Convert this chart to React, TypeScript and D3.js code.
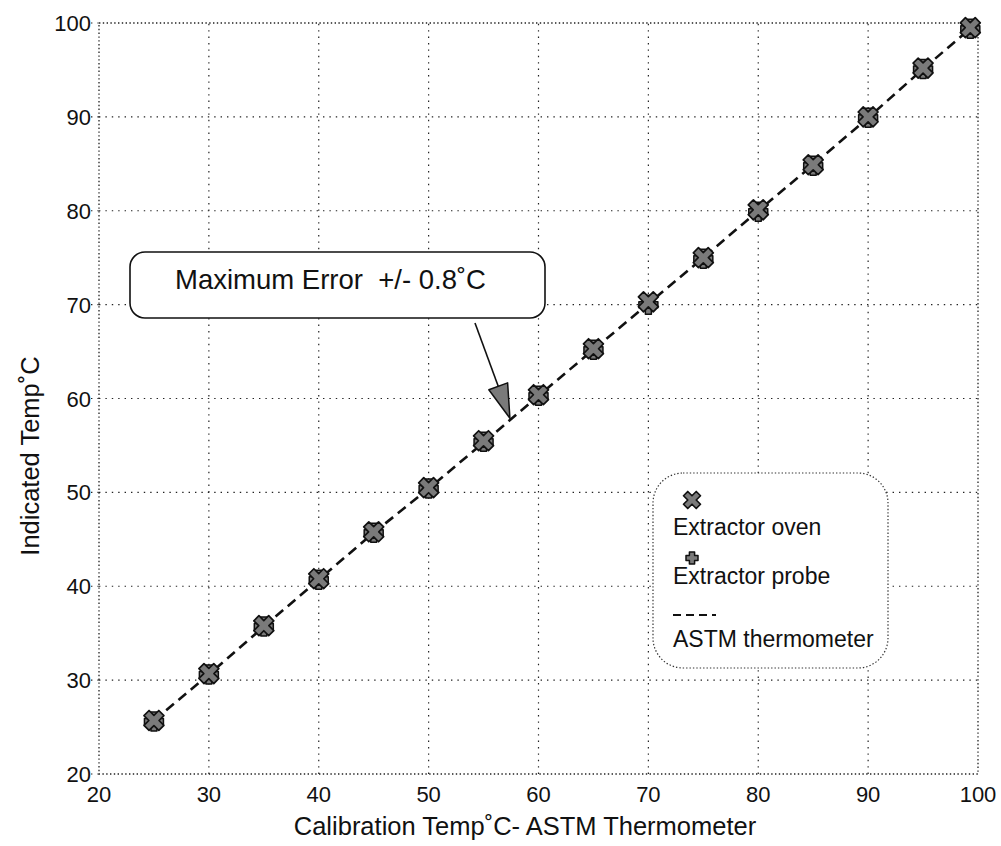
import React from "react";
import * as d3 from "d3";

// Calibration points (°C): reference thermometer reading vs. indicated reading
const calibrationTemps = [25, 30, 35, 40, 45, 50, 55, 60, 65, 70, 75, 80, 85, 90, 95, 99.3];
const ovenTemps = [25.7, 30.7, 35.8, 40.8, 45.8, 50.5, 55.5, 60.4, 65.3, 70.3, 75.0, 80.1, 84.9, 90.0, 95.2, 99.5];
const probeTemps = [25.6, 30.6, 35.7, 40.7, 45.7, 50.4, 55.4, 60.3, 65.2, 70.0, 74.9, 79.9, 84.8, 89.9, 95.1, 99.4];
const astmTemps = [25.7, 30.6, 35.7, 40.7, 45.7, 50.4, 55.3, 60.3, 65.2, 70.1, 75.0, 80.0, 84.9, 89.9, 95.1, 99.4];

const xTicks = [20, 30, 40, 50, 60, 70, 80, 90, 100];
const yTicks = [20, 30, 40, 50, 60, 70, 80, 90, 100];

const legendLabels = ["Extractor oven", "Extractor probe", "ASTM thermometer"];
const annotationText = "Maximum Error  +/- 0.8˚C";
const annotationTarget = [57.4, 57.9];

const FONT = "'Liberation Sans', Arial, Helvetica, sans-serif";
const W = 1001;
const H = 846;

const x = d3.scaleLinear().domain([20, 100]).range([99, 978]);
const y = d3.scaleLinear().domain([20, 100]).range([774, 23]);

// Thick-armed cross outline; rotated 45° it becomes the "X" marker.
function crossOutline(e: number, w: number): string {
  const pts: [number, number][] = [
    [-w, -e], [w, -e], [w, -w], [e, -w], [e, w], [w, w],
    [w, e], [-w, e], [-w, w], [-e, w], [-e, -w], [-w, -w],
  ];
  return (d3.line()(pts) as string) + "Z";
}

const MARK_FILL = "#7a7a7a";
const MARK_STROKE = "#111";

function OvenMark({ cx, cy, e = 10.5, w = 3.6 }: { cx: number; cy: number; e?: number; w?: number }) {
  return (
    <path
      d={crossOutline(e, w)}
      transform={`translate(${cx},${cy}) rotate(45)`}
      fill={MARK_FILL}
      stroke={MARK_STROKE}
      strokeWidth={1.7}
      strokeLinejoin="round"
    />
  );
}

function ProbeMark({ cx, cy, e = 9.5, w = 3 }: { cx: number; cy: number; e?: number; w?: number }) {
  return (
    <path
      d={crossOutline(e, w)}
      transform={`translate(${cx},${cy})`}
      fill={MARK_FILL}
      stroke={MARK_STROKE}
      strokeWidth={1.5}
      strokeLinejoin="round"
    />
  );
}

export default function App() {
  const line = d3
    .line<number>()
    .x((_, i) => x(calibrationTemps[i]))
    .y((d) => y(d));

  const [x0, x1] = x.range();
  const [y0, y1] = y.range();

  // annotation arrow geometry
  const tipX = x(annotationTarget[0]);
  const tipY = y(annotationTarget[1]);
  const tailX = 475;
  const tailY = 323;
  const ang = Math.atan2(tipY - tailY, tipX - tailX);
  const headLen = 34;
  const headHalf = 10;
  const bx = tipX - headLen * Math.cos(ang);
  const by = tipY - headLen * Math.sin(ang);
  const px = -Math.sin(ang) * headHalf;
  const py = Math.cos(ang) * headHalf;

  return (
    <svg
      width={W}
      height={H}
      style={{ position: "absolute", left: 0, top: 0, background: "#fff" }}
      fontFamily={FONT}
    >
      <rect width={W} height={H} fill="#fff" />

      {/* grid lines */}
      <g stroke="#222" strokeWidth={1.2} strokeDasharray="1.4 5">
        {xTicks.slice(1, -1).map((t) => (
          <line key={"gx" + t} x1={x(t)} x2={x(t)} y1={y0} y2={y1} />
        ))}
        {yTicks.slice(1, -1).map((t) => (
          <line key={"gy" + t} x1={x0} x2={x1} y1={y(t)} y2={y(t)} />
        ))}
        {yTicks.map((t) => (
          <line key={"ty" + t} x1={x0 - 8} x2={x0} y1={y(t)} y2={y(t)} />
        ))}
      </g>

      {/* plot frame */}
      <rect
        x={x0}
        y={y1}
        width={x1 - x0}
        height={y0 - y1}
        fill="none"
        stroke="#222"
        strokeWidth={1.3}
        strokeDasharray="1.4 2.4"
      />

      {/* tick labels */}
      <g fontSize={22} fill="#111">
        {xTicks.map((t) => (
          <text key={"lx" + t} x={x(t)} y={802} textAnchor="middle">
            {t}
          </text>
        ))}
        {yTicks.map((t) => (
          <text key={"ly" + t} x={91} y={y(t) + 8} textAnchor="end">
            {t}
          </text>
        ))}
      </g>

      {/* axis titles */}
      <text x={525} y={835} fontSize={25.5} textAnchor="middle" fill="#111">
        Calibration Temp˚C- ASTM Thermometer
      </text>
      <text
        transform={`translate(39,456) rotate(-90)`}
        fontSize={25.5}
        textAnchor="middle"
        fill="#111"
      >
        Indicated Temp˚C
      </text>

      {/* reference line */}
      <path
        d={line(astmTemps) as string}
        fill="none"
        stroke="#111"
        strokeWidth={2.6}
        strokeDasharray="10 6"
      />

      {/* measured points */}
      {calibrationTemps.map((c, i) => (
        <g key={"m" + c}>
          <ProbeMark cx={x(c)} cy={y(probeTemps[i])} />
          <OvenMark cx={x(c)} cy={y(ovenTemps[i])} />
        </g>
      ))}

      {/* annotation */}
      <rect x={130} y={252} width={415} height={66} rx={15} fill="#fff" stroke="#111" strokeWidth={1.6} />
      <text x={175} y={289} fontSize={27.5} fill="#111" style={{ whiteSpace: "pre" }}>
        {annotationText}
      </text>
      <line x1={tailX} y1={tailY} x2={bx} y2={by} stroke="#111" strokeWidth={1.6} />
      <polygon
        points={`${tipX},${tipY} ${bx + px},${by + py} ${bx - px},${by - py}`}
        fill={MARK_FILL}
        stroke="#111"
        strokeWidth={1.5}
        strokeLinejoin="round"
      />

      {/* legend */}
      <rect
        x={653}
        y={473}
        width={235}
        height={195}
        rx={30}
        fill="#fff"
        stroke="#333"
        strokeWidth={1.2}
        strokeDasharray="1.4 2"
      />
      <OvenMark cx={692} cy={500} e={9} w={3} />
      <text x={673} y={535} fontSize={23} fill="#111">
        {legendLabels[0]}
      </text>
      <ProbeMark cx={692} cy={558} e={6} w={2.6} />
      <text x={673} y={584} fontSize={23} fill="#111">
        {legendLabels[1]}
      </text>
      <line x1={673} x2={716} y1={615} y2={615} stroke="#111" strokeWidth={2} strokeDasharray="8 5" />
      <text x={673} y={647} fontSize={23} fill="#111">
        {legendLabels[2]}
      </text>
    </svg>
  );
}
